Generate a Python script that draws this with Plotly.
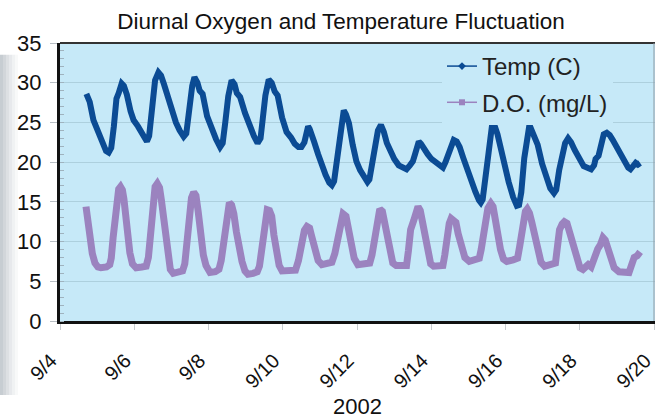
import numpy as np
import pandas as pd
import plotly.graph_objects as go

BASE = "2002-09-04"

# Temperature (C): time in days after 2002-09-04 00:00, and values
temp_t = [0.71,0.80,0.90,1.00,1.12,1.24,1.31,1.38,1.45,1.52,1.58,1.66,1.72,1.80,1.90,1.98,2.10,2.20,2.34,2.40,
          2.48,2.56,2.65,2.72,2.80,2.90,3.00,3.12,3.22,3.33,3.40,3.48,3.56,3.62,3.70,3.76,3.84,3.96,4.08,4.20,
          4.31,4.38,4.45,4.53,4.62,4.70,4.76,4.85,4.98,5.10,5.22,5.32,5.40,5.46,5.53,5.62,5.70,5.78,5.86,5.98,
          6.10,6.22,6.32,6.42,6.50,6.58,6.63,6.68,6.72,6.76,6.84,6.95,7.05,7.15,7.25,7.32,7.38,7.46,7.54,7.64,
          7.70,7.78,7.88,7.98,8.08,8.18,8.28,8.33,8.45,8.56,8.64,8.72,8.80,8.90,9.00,9.12,9.24,9.33,9.42,9.50,
          9.56,9.66,9.72,9.80,9.90,10.00,10.10,10.20,10.31,10.38,10.45,10.52,10.60,10.68,10.76,10.86,10.96,11.07,11.18,11.28,
          11.33,11.38,11.45,11.54,11.64,11.70,11.78,11.88,11.98,12.08,12.20,12.30,12.36,12.42,12.50,12.58,12.64,12.70,12.76,12.86,
          12.98,13.10,13.20,13.30,13.36,13.44,13.52,13.60,13.68,13.76,13.86,13.98,14.10,14.20,14.30,14.38,14.42,14.50,14.56,14.64,
          14.72,14.80,14.88,14.98,15.08,15.20,15.30,15.36,15.44,15.50,15.56,15.62]
temp_v = [28.6,27.6,25.3,24.2,22.8,21.4,21.2,21.8,24.5,28.0,28.7,29.9,29.6,28.5,26.4,25.3,24.5,23.6,22.6,23.3,
          26.5,30.3,31.3,30.9,29.8,28.2,26.5,25.0,24.0,23.2,23.6,26.8,29.6,30.7,30.0,29.0,28.6,25.8,24.2,22.9,
          21.9,22.4,25.0,28.3,30.3,29.8,28.7,28.2,26.2,24.6,23.3,22.4,23.0,25.5,28.4,30.4,30.0,28.9,28.4,25.6,
          23.8,23.1,22.3,21.9,21.9,22.5,23.3,24.5,24.2,23.5,22.6,21.0,19.6,18.4,17.4,17.1,17.6,20.8,23.8,26.5,
          26.0,24.9,22.2,20.1,19.0,18.2,17.5,17.8,21.5,24.0,24.7,23.8,22.4,21.2,20.4,19.6,19.3,19.1,19.6,20.1,
          21.0,22.6,22.3,21.6,21.0,20.4,20.0,19.7,19.3,20.0,21.0,22.1,22.8,22.6,21.9,20.5,19.0,17.6,16.3,15.2,
          14.9,15.3,17.5,21.2,24.9,24.6,23.5,21.2,19.2,17.5,15.6,14.5,14.6,16.2,20.5,23.7,24.7,24.0,23.2,22.2,
          19.8,17.8,16.7,16.1,16.5,19.0,21.2,22.4,23.0,22.5,21.5,20.3,19.5,19.3,19.1,19.6,20.4,20.8,22.4,23.5,
          23.7,23.4,22.8,21.9,21.0,20.0,19.3,19.1,19.6,19.9,19.7,19.9]

# Dissolved oxygen (mg/L)
do_t = [0.70,0.75,0.80,0.87,0.94,1.02,1.10,1.25,1.34,1.38,1.43,1.48,1.53,1.58,1.63,1.68,1.72,1.76,1.82,1.88,
        1.95,2.05,2.20,2.32,2.38,2.43,2.50,2.56,2.62,2.68,2.73,2.78,2.84,2.90,2.97,3.05,3.20,3.30,3.36,3.42,
        3.48,3.54,3.60,3.66,3.72,3.79,3.86,3.93,4.04,4.18,4.28,4.34,4.42,4.50,4.56,4.62,4.68,4.75,4.82,4.90,
        4.98,5.06,5.20,5.31,5.37,5.45,5.52,5.58,5.64,5.70,5.76,5.82,5.90,5.98,6.15,6.34,6.42,6.50,6.58,6.65,
        6.72,6.78,6.86,6.95,7.05,7.20,7.32,7.40,7.48,7.56,7.62,7.70,7.76,7.84,7.92,8.02,8.20,8.34,8.40,8.48,
        8.56,8.61,8.68,8.74,8.80,8.88,8.96,9.05,9.20,9.33,9.38,9.44,9.52,9.58,9.64,9.70,9.76,9.82,9.90,9.98,
        10.06,10.20,10.31,10.36,10.42,10.48,10.53,10.60,10.66,10.72,10.80,10.90,11.02,11.18,11.29,11.34,11.42,11.52,11.60,11.66,
        11.72,11.78,11.86,11.94,12.03,12.20,12.32,12.38,12.46,12.53,12.58,12.64,12.70,12.78,12.86,12.95,13.05,13.20,13.34,13.40,
        13.45,13.52,13.58,13.65,13.72,13.80,13.90,14.00,14.08,14.16,14.22,14.30,14.35,14.40,14.48,14.55,14.62,14.68,14.74,14.82,
        14.92,15.05,15.20,15.32,15.40,15.46,15.54,15.62]
do_v = [14.4,12.5,10.8,8.5,7.3,6.8,6.7,6.8,7.1,7.9,10.5,13.2,15.5,16.6,16.9,16.5,15.4,13.5,11.0,8.6,
        7.2,6.7,6.8,6.9,8.0,10.8,14.8,16.9,17.3,16.8,15.2,13.0,10.2,8.0,6.5,6.0,6.1,6.3,7.2,10.0,
        13.5,15.5,16.2,15.8,13.8,10.8,8.3,7.0,6.1,6.2,6.5,7.6,10.5,13.8,14.9,14.6,13.5,11.2,9.0,7.5,
        6.3,5.9,6.0,6.2,6.9,9.5,12.3,14.0,13.9,13.2,10.8,8.7,7.0,6.3,6.3,6.4,7.6,9.6,11.4,11.9,
        11.7,10.6,8.9,7.6,7.1,7.2,7.4,8.5,10.8,12.8,13.5,13.2,11.5,9.3,7.9,7.1,7.2,7.3,8.3,11.0,
        13.4,14.1,13.8,12.2,10.4,8.3,7.3,7.0,6.9,7.0,8.8,11.5,12.6,13.8,14.4,13.9,12.4,10.3,8.2,7.2,
        6.9,6.9,7.0,8.3,10.6,12.3,12.9,12.6,12.4,11.0,9.2,8.0,7.5,7.7,7.9,9.0,11.8,14.2,14.8,14.4,
        12.8,11.0,9.0,7.8,7.5,7.7,7.9,9.5,12.2,13.8,14.1,13.6,12.5,10.5,8.6,7.4,6.9,7.1,7.3,9.6,
        11.5,12.2,12.5,12.3,11.2,9.2,7.6,6.7,6.5,7.0,7.1,6.8,7.6,8.6,9.1,9.6,10.5,10.2,9.3,7.8,
        6.7,6.2,6.2,6.1,7.2,8.0,8.2,8.7]

TITLE = "Diurnal Oxygen and Temperature Fluctuation"
X_TITLE = "2002"
NAMES = ["Temp (C)", "D.O. (mg/L)"]

TEMP_COLOR = "#0B4B94"
DO_COLOR = "#9B83BF"
BG = "#C6E9F8"
GRID = "#ADD0DE"
FONT = "Liberation Sans, Arial, sans-serif"

base = pd.Timestamp(BASE)
tx = base + pd.to_timedelta(np.array(temp_t), unit="D")
dx = base + pd.to_timedelta(np.array(do_t), unit="D")

fig = go.Figure()
fig.add_trace(go.Scatter(x=tx, y=temp_v, mode="lines", line=dict(color=TEMP_COLOR, width=6),
                         showlegend=False, hoverinfo="skip"))
fig.add_trace(go.Scatter(x=dx, y=do_v, mode="lines", line=dict(color=DO_COLOR, width=7),
                         showlegend=False, hoverinfo="skip"))
# legend entries
fig.add_trace(go.Scatter(x=[None], y=[None], mode="lines+markers", name=NAMES[0], legendgroup="a",
                         line=dict(color=TEMP_COLOR, width=1.5),
                         marker=dict(symbol="diamond", size=6, color=TEMP_COLOR)))
fig.add_trace(go.Scatter(x=[None], y=[None], mode="lines+markers", name=NAMES[1], legendgroup="b",
                         line=dict(color=DO_COLOR, width=1.5),
                         marker=dict(symbol="square", size=6, color=DO_COLOR)))

L, R, T, B = 60, 655, 43, 325
W, H = 655, 419
pw = R - L
ph = B - T

def px2x(p):
    return (p - L) / pw

def px2y(p):
    return (B - p) / ph

shapes = []
# left gray shadow
for i, op in enumerate([0.42, 0.34, 0.26, 0.18, 0.11, 0.05]):
    shapes.append(dict(type="rect", xref="paper", yref="paper",
                       x0=px2x(i * 3), x1=px2x(i * 3 + 3), y0=px2y(400), y1=px2y(55),
                       fillcolor="#7A8793", opacity=op, line=dict(width=0), layer="below"))
# plot frame (top/right)
shapes.append(dict(type="line", xref="paper", yref="paper", x0=0, x1=1, y0=1, y1=1,
                   line=dict(color="#333333", width=2)))
shapes.append(dict(type="line", xref="paper", yref="paper", x0=px2x(654), x1=px2x(654), y0=0, y1=1,
                   line=dict(color="#8E9AA3", width=1)))

fig.update_layout(
    width=W, height=H,
    margin=dict(l=L, r=W - R, t=T, b=H - B),
    paper_bgcolor="white",
    plot_bgcolor=BG,
    font=dict(family=FONT, color="#111111"),
    title=dict(text=TITLE, x=px2x(341), xref="paper", xanchor="center",
               y=1 - 21 / H, yref="container", yanchor="middle",
               font=dict(size=22.5, family=FONT, color="#111111")),
    showlegend=True,
    legend=dict(x=px2x(442), y=px2y(44), xanchor="left", yanchor="top",
                bgcolor=BG, borderwidth=0, font=dict(size=24, family=FONT, color="#222222"),
                tracegroupgap=2, itemwidth=30),
    shapes=shapes,
)
fig.update_xaxes(
    type="date",
    range=[base, base + pd.Timedelta(days=16.02)],
    tick0=base, dtick=2 * 86400000, tickformat="%-m/%-d",
    tickangle=-45, ticks="outside", ticklen=6, tickcolor="#C8CCD0", tickwidth=1,
    ticklabelstandoff=11, ticklabelshift=-9, ticklabeloverflow="allow",
    tickfont=dict(size=20, family=FONT, color="#111111"),
    showgrid=False, zeroline=False,
    showline=True, linecolor="#111111", linewidth=3,
    title=dict(text=X_TITLE, font=dict(size=22, family=FONT, color="#111111"), standoff=11),
)
fig.update_yaxes(
    range=[0, 35], dtick=5, tick0=0,
    ticks="outside", ticklen=7, tickcolor="#B8BEC4", tickwidth=1,
    ticklabelstandoff=4,
    tickfont=dict(size=22, family=FONT, color="#111111"),
    showgrid=True, gridcolor=GRID, gridwidth=1,
    zeroline=False,
    showline=True, linecolor="#111111", linewidth=3,
    minor=dict(dtick=1, ticks="inside", ticklen=4, tickcolor="#9FB3BF", showgrid=False),
)

fig.write_html("out.html", config={"displayModeBar": False},
               post_script="document.body.style.margin='0';document.body.style.overflow='hidden';")
